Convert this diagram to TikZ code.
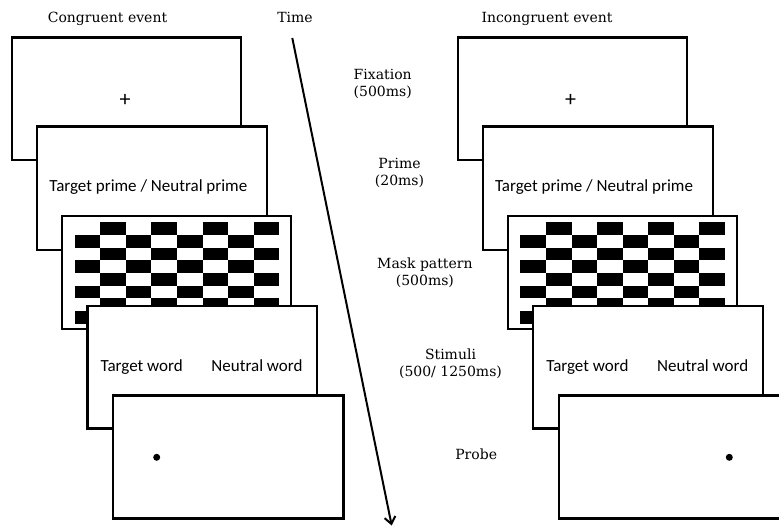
\documentclass[tikz,border=0pt]{standalone}
\usepackage{fontspec}
\setmainfont{DejaVu Serif}
\newfontfamily\panelfont{Carlito}
\usetikzlibrary{arrows.meta}
\begin{document}
\begin{tikzpicture}[x=1pt,y=-1pt,
  panel/.style={draw, line width=2.2pt, fill=white, rectangle, inner sep=0pt, outer sep=0pt, anchor=north west},
  title/.style={font=\fontsize{14}{17}\selectfont, anchor=base, align=center, inner sep=0pt},
  ptext/.style={font=\panelfont\fontsize{17}{20}\selectfont, anchor=base, inner sep=0pt},
  plus/.style={font=\panelfont\fontsize{22}{22}\selectfont, inner sep=0pt},
  dot/.style={circle, fill, inner sep=0pt, minimum size=7pt},
  timearrow/.style={line width=2pt, -{Straight Barb[length=7pt,width=11pt,line width=2pt]}},
  cell/.style={fill=black}
]
\useasboundingbox (0,0) rectangle (779,527);
\clip (0,0) rectangle (779,527);
\fill[white] (0,0) rectangle (779,527);

% titles
\node[title] (tc) at (107.5,22.5) {Congruent event};
\node[title] (tt) at (295,22.5) {Time};
\node[title] (ti) at (547,22.5) {Incongruent event};

% stage labels (anchor = baseline of the last line)
\node[title] (lfix) at (382.7,96.3) {Fixation\\(500ms)};
\node[title] (lpri) at (399.5,185.3) {Prime\\(20ms)};
\node[title] (lmask) at (424.9,285.3) {Mask pattern\\(500ms)};
\node[title] (lsti) at (450.5,376) {Stimuli\\(500/ 1250ms)};
\node[title] (lpro) at (476.2,459) {Probe};

% time arrow
\coordinate (t0) at (292.3,38);
\coordinate (t1) at (391.7,525.5);
\draw[timearrow] (t0) -- (t1);

\foreach \s/\n in {0/L,445.7/R}{
  \node[panel, minimum width=229pt, minimum height=122.5pt] (\n1) at (12+\s,37.5) {};
  \node[plus] (\n plus) at (125+\s,100.7) {+};
  \node[panel, minimum width=230pt, minimum height=123.5pt] (\n2) at (37+\s,126.5) {};
  \node[ptext] (\n prime) at (148.3+\s,191.7) {Target prime / Neutral prime};
  \node[panel, minimum width=229pt, minimum height=113pt] (\n3) at (62+\s,216) {};
  \foreach \i in {0,...,7}{
    \foreach \j in {0,...,7}{
      \pgfmathtruncatemacro\odd{mod(\i+\j,2)}
      \ifnum\odd=1
        \fill[cell] ({74.7+\s+\j*25.58},{222.3+\i*12.65}) rectangle ++(25.58,12.65);
      \fi
    }
  }
  \node[panel, minimum width=229.5pt, minimum height=122.5pt] (\n4) at (87.5+\s,306) {};
  \node[ptext] (\n tw) at (141.7+\s,371.7) {Target word};
  \node[ptext] (\n nw) at (257+\s,371.7) {Neutral word};
  \node[panel, minimum width=230.5pt, minimum height=123pt] (\n5) at (113+\s,395.5) {};
}
\node[dot] (dL) at (156.7,457.3) {};
\node[dot] (dR) at (729.3,457.3) {};
\end{tikzpicture}
\end{document}
